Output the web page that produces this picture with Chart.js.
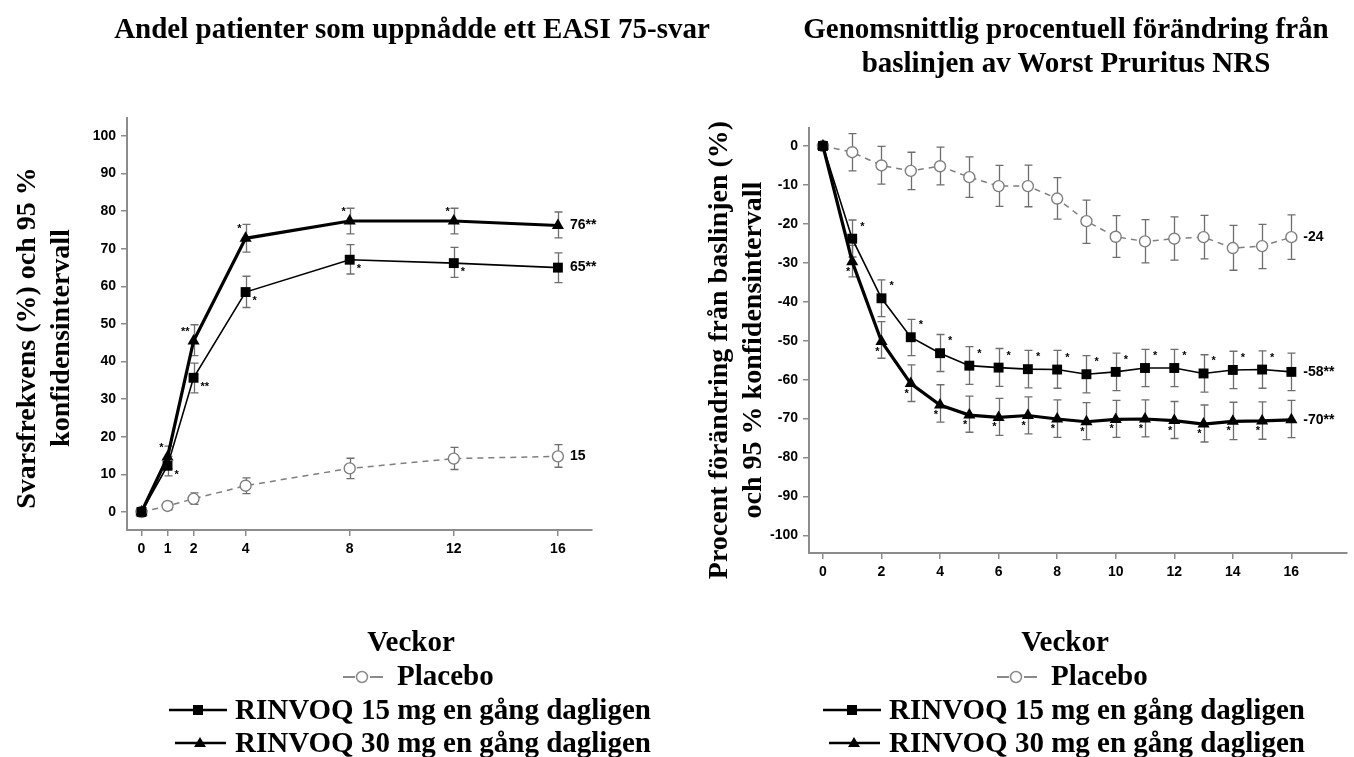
<!DOCTYPE html>
<html>
<head>
<meta charset="utf-8">
<script src="https://cdn.jsdelivr.net/npm/chart.js@4.4.0/dist/chart.umd.min.js"></script>
<style>
  html, body { margin: 0; padding: 0; background: #fff; width: 1354px; height: 757px; overflow: hidden; }
  #wrap { position: relative; width: 1354px; height: 757px; }
  .box { position: absolute; }
  #overlay { position: absolute; left: 0; top: 0; }
  .ser { font-family: 'Liberation Serif', 'Times New Roman', serif; font-weight: bold; font-size: 29px; fill: #000; }
  .ax { font-size: 28px; }
</style>
</head>
<body>
<div id="wrap">
  <div class="box" style="left:0;top:100px;width:610px;height:480px"><canvas id="chartA"></canvas></div>
  <div class="box" style="left:690px;top:100px;width:664px;height:500px"><canvas id="chartB"></canvas></div>

  <svg id="overlay" width="1354" height="757">
    <!-- titles -->
    <text class="ser" x="412" y="38" text-anchor="middle">Andel patienter som uppnådde ett EASI 75-svar</text>
    <text class="ser" x="1066" y="38" text-anchor="middle">Genomsnittlig procentuell förändring från</text>
    <text class="ser" x="1066" y="72" text-anchor="middle">baslinjen av Worst Pruritus NRS</text>

    <!-- y axis titles -->
    <text class="ser ax" transform="translate(35,338) rotate(-90)" text-anchor="middle">Svarsfrekvens (%) och 95 %</text>
    <text class="ser ax" transform="translate(69,338) rotate(-90)" text-anchor="middle">konfidensintervall</text>
    <text class="ser ax" transform="translate(727,350) rotate(-90)" text-anchor="middle">Procent förändring från baslinjen (%)</text>
    <text class="ser ax" transform="translate(761,350) rotate(-90)" text-anchor="middle">och 95 % konfidensintervall</text>

    <!-- x axis titles -->
    <text class="ser" x="411" y="651" text-anchor="middle">Veckor</text>
    <text class="ser" x="1065" y="651" text-anchor="middle">Veckor</text>

    <!-- legend left -->
    <g>
      <line x1="343" y1="677" x2="355" y2="677" stroke="#8a8a8a" stroke-width="2"/>
      <line x1="370" y1="677" x2="383" y2="677" stroke="#8a8a8a" stroke-width="2"/>
      <circle cx="362" cy="677" r="5.5" fill="#fff" stroke="#8a8a8a" stroke-width="1.5"/>
      <text class="ser" x="397" y="685">Placebo</text>
      <line x1="169" y1="710" x2="227" y2="710" stroke="#000" stroke-width="2.5"/>
      <rect x="193" y="705" width="10" height="10" fill="#000"/>
      <text class="ser" x="235" y="719">RINVOQ 15 mg en gång dagligen</text>
      <line x1="175" y1="743" x2="226" y2="743" stroke="#000" stroke-width="2.5"/>
      <polygon points="200,737 206,747 194,747" fill="#000"/>
      <text class="ser" x="235" y="752">RINVOQ 30 mg en gång dagligen</text>
    </g>
    <!-- legend right -->
    <g transform="translate(654,0)">
      <line x1="343" y1="677" x2="355" y2="677" stroke="#8a8a8a" stroke-width="2"/>
      <line x1="370" y1="677" x2="383" y2="677" stroke="#8a8a8a" stroke-width="2"/>
      <circle cx="362" cy="677" r="5.5" fill="#fff" stroke="#8a8a8a" stroke-width="1.5"/>
      <text class="ser" x="397" y="685">Placebo</text>
      <line x1="169" y1="710" x2="227" y2="710" stroke="#000" stroke-width="2.5"/>
      <rect x="193" y="705" width="10" height="10" fill="#000"/>
      <text class="ser" x="235" y="719">RINVOQ 15 mg en gång dagligen</text>
      <line x1="175" y1="743" x2="226" y2="743" stroke="#000" stroke-width="2.5"/>
      <polygon points="200,737 206,747 194,747" fill="#000"/>
      <text class="ser" x="235" y="752">RINVOQ 30 mg en gång dagligen</text>
    </g>
  </svg>
</div>

<script>
// ---- left panel: EASI 75 response (%) ----
const weeksA = [0, 1, 2, 4, 8, 12, 16];
const xTicksA = [0, 1, 2, 4, 8, 12, 16];
const yTicksA = [0, 10, 20, 30, 40, 50, 60, 70, 80, 90, 100];

const placeboA   = [0, 1.6, 3.5, 7.0, 11.6, 14.2, 14.8];
const placeboALo = [0, 0.6, 2.0, 4.9, 8.9, 11.3, 11.9];
const placeboAHi = [0, 2.7, 5.1, 9.1, 14.3, 17.2, 17.9];

const r15A   = [0, 12.3, 35.7, 58.5, 67.1, 66.2, 65.0];
const r15ALo = [0, 9.6, 31.7, 54.4, 63.3, 62.4, 61.0];
const r15AHi = [0, 14.8, 39.6, 62.7, 71.1, 70.4, 68.9];
const r15AStars = ['', '*', '**', '*', '*', '*', ''];

const r30A   = [0, 14.6, 45.5, 72.8, 77.4, 77.4, 76.2];
const r30ALo = [0, 11.5, 41.6, 69.1, 74.0, 74.0, 72.9];
const r30AHi = [0, 17.5, 49.8, 76.5, 80.8, 80.8, 79.8];
const r30AStars = ['', '*', '**', '*', '*', '*', ''];

// ---- right panel: Worst Pruritus NRS change (%) ----
const weeksB = [0, 1, 2, 3, 4, 5, 6, 7, 8, 9, 10, 11, 12, 13, 14, 15, 16];
const xTicksB = [0, 2, 4, 6, 8, 10, 12, 14, 16];
const yTicksB = [0, -10, -20, -30, -40, -50, -60, -70, -80, -90, -100];

const placeboB   = [0, -1.6, -5.0, -6.4, -5.2, -8.0, -10.3, -10.3, -13.5, -19.3, -23.3, -24.5, -23.8, -23.4, -26.2, -25.7, -23.4];
const placeboBLo = [0, -6.4, -9.8, -11.2, -10.0, -13.2, -15.5, -15.6, -18.8, -25.0, -28.6, -30.0, -29.3, -29.0, -31.9, -31.5, -29.1];
const placeboBHi = [0, 3.2, -0.1, -1.6, -0.3, -2.8, -5.0, -4.9, -8.1, -13.9, -17.9, -18.9, -18.2, -17.8, -20.4, -20.1, -17.7];

const r15B   = [0, -23.8, -39.1, -49.1, -53.2, -56.4, -56.9, -57.3, -57.4, -58.6, -58.0, -57.0, -57.0, -58.4, -57.5, -57.4, -58.0];
const r15BLo = [0, -28.5, -43.8, -53.8, -57.9, -61.2, -61.7, -62.1, -62.2, -63.4, -62.8, -61.8, -61.8, -63.2, -62.3, -62.2, -62.8];
const r15BHi = [0, -19.0, -34.4, -44.5, -48.4, -51.5, -52.0, -52.5, -52.5, -53.8, -53.2, -52.2, -52.2, -53.6, -52.7, -52.6, -53.2];
const r15BStars = ['', '*', '*', '*', '*', '*', '*', '*', '*', '*', '*', '*', '*', '*', '*', '*', ''];

const r30B   = [0, -29.7, -50.2, -61.0, -66.5, -69.1, -69.7, -69.2, -70.1, -70.8, -70.2, -70.1, -70.5, -71.4, -70.7, -70.6, -70.3];
const r30BLo = [0, -33.6, -54.5, -65.6, -70.9, -73.5, -74.3, -73.9, -74.8, -75.4, -74.8, -74.7, -75.1, -76.0, -75.4, -75.3, -74.9];
const r30BHi = [0, -25.5, -45.1, -56.2, -61.3, -64.2, -64.8, -64.4, -65.2, -65.9, -65.3, -65.2, -65.6, -66.5, -65.8, -65.7, -65.3];
const r30BStars = ['', '*', '*', '*', '*', '*', '*', '*', '*', '*', '*', '*', '*', '*', '*', '*', ''];

const AXIS_GREY = '#8c8c8c';
const ERR_GREY = '#6e6e6e';
const PLACEBO_GREY = '#7f7f7f';

const pts = (xs, ys) => xs.map((x, i) => ({ x: x, y: ys[i] }));

// error bars with caps, drawn under the lines
const errorBars = {
  id: 'errorBars',
  beforeDatasetsDraw(chart) {
    const { ctx, scales: { x, y } } = chart;
    ctx.save();
    ctx.lineWidth = 1.3;
    chart.data.datasets.forEach(ds => {
      ctx.strokeStyle = ERR_GREY;
      ds.data.forEach((p, i) => {
        const lo = ds.errLo[i], hi = ds.errHi[i];
        if (lo === hi) return;
        const px = Math.round(x.getPixelForValue(p.x)) + 0.5;
        const yTop = y.getPixelForValue(hi), yBot = y.getPixelForValue(lo);
        ctx.beginPath();
        ctx.moveTo(px, yTop); ctx.lineTo(px, yBot);
        ctx.moveTo(px - 4, yTop); ctx.lineTo(px + 4, yTop);
        ctx.moveTo(px - 4, yBot); ctx.lineTo(px + 4, yBot);
        ctx.stroke();
      });
    });
    ctx.restore();
  }
};

// significance stars and end-of-line values
const notes = {
  id: 'notes',
  afterDatasetsDraw(chart) {
    const { ctx, scales: { x, y } } = chart;
    ctx.save();
    ctx.fillStyle = '#000';
    ctx.textBaseline = 'middle';
    chart.data.datasets.forEach(ds => {
      if (ds.stars) {
        ctx.font = 'bold 11px "Liberation Sans", Arial, sans-serif';
        ds.data.forEach((p, i) => {
          const s = ds.stars[i];
          if (!s) return;
          const px = x.getPixelForValue(p.x), py = y.getPixelForValue(p.y);
          const o = ds.starOffset;
          ctx.textAlign = o[0] < 0 ? 'right' : 'left';
          ctx.fillText(s, px + o[0], py + o[1]);
        });
      }
      if (ds.endLabel) {
        const last = ds.data[ds.data.length - 1];
        ctx.font = 'bold 14px "Liberation Sans", Arial, sans-serif';
        ctx.textAlign = 'left';
        ctx.fillText(ds.endLabel, x.getPixelForValue(last.x) + 12, y.getPixelForValue(last.y));
      }
    });
    ctx.restore();
  }
};

function axisStyle(extra) {
  return Object.assign({
    type: 'linear',
    grid: { drawOnChartArea: false, drawTicks: true, tickLength: 6, color: AXIS_GREY, lineWidth: 1.5 },
    border: { display: true, color: AXIS_GREY, width: 2 },
    ticks: {
      color: '#000',
      font: { family: '"Liberation Sans", Arial, sans-serif', size: 14, weight: 'bold' },
      autoSkip: false, maxRotation: 0, padding: 5
    }
  }, extra);
}

function placeboSet(xs, ys, lo, hi, endLabel) {
  return {
    label: 'Placebo', data: pts(xs, ys), errLo: lo, errHi: hi, endLabel: endLabel,
    borderColor: PLACEBO_GREY, borderWidth: 1.5, borderDash: [6, 5],
    pointStyle: 'circle', pointRadius: 5.5, pointBackgroundColor: '#fff',
    pointBorderColor: PLACEBO_GREY, pointBorderWidth: 1.4, tension: 0, order: 3
  };
}
function r15Set(xs, ys, lo, hi, stars, off, endLabel) {
  return {
    label: 'RINVOQ 15 mg en gång dagligen', data: pts(xs, ys), errLo: lo, errHi: hi,
    stars: stars, starOffset: off, endLabel: endLabel,
    borderColor: '#000', borderWidth: 1.6,
    pointStyle: 'rect', pointRadius: 7, pointBackgroundColor: '#000', pointBorderColor: '#000',
    pointBorderWidth: 0, tension: 0, order: 2
  };
}
function r30Set(xs, ys, lo, hi, stars, off, endLabel) {
  return {
    label: 'RINVOQ 30 mg en gång dagligen', data: pts(xs, ys), errLo: lo, errHi: hi,
    stars: stars, starOffset: off, endLabel: endLabel,
    borderColor: '#000', borderWidth: 3.2,
    pointStyle: 'triangle', pointRadius: 7, pointBackgroundColor: '#000', pointBorderColor: '#000',
    pointBorderWidth: 0, tension: 0, order: 1
  };
}

const baseOptions = {
  responsive: true, maintainAspectRatio: false, animation: false,
  plugins: { legend: { display: false }, tooltip: { enabled: false } }
};

new Chart(document.getElementById('chartA'), {
  type: 'line',
  data: {
    datasets: [
      placeboSet(weeksA, placeboA, placeboALo, placeboAHi, '15'),
      r15Set(weeksA, r15A, r15ALo, r15AHi, r15AStars, [7, 9], '65**'),
      r30Set(weeksA, r30A, r30ALo, r30AHi, r30AStars, [-4, -9], '76**')
    ]
  },
  options: Object.assign({}, baseOptions, {
    layout: { padding: { top: 18, right: 18, left: 0, bottom: 0 } },
    scales: {
      x: axisStyle({
        min: -0.557, max: 17.31,
        afterBuildTicks: s => { s.ticks = xTicksA.map(v => ({ value: v })); },
        afterFit: s => { s.height = 50; }
      }),
      y: axisStyle({
        min: -4.79, max: 104.8,
        afterBuildTicks: s => { s.ticks = yTicksA.map(v => ({ value: v })); },
        afterFit: s => { s.width = 127; }
      })
    }
  }),
  plugins: [errorBars, notes]
});

new Chart(document.getElementById('chartB'), {
  type: 'line',
  data: {
    datasets: [
      placeboSet(weeksB, placeboB, placeboBLo, placeboBHi, '-24'),
      r15Set(weeksB, r15B, r15BLo, r15BHi, r15BStars, [8, -12], '-58**'),
      r30Set(weeksB, r30B, r30BLo, r30BHi, r30BStars, [-2, 10], '-70**')
    ]
  },
  options: Object.assign({}, baseOptions, {
    layout: { padding: { top: 28, right: 4, left: 0, bottom: 0 } },
    scales: {
      x: axisStyle({
        min: -0.476, max: 17.9,
        afterBuildTicks: s => { s.ticks = xTicksB.map(v => ({ value: v })); },
        afterFit: s => { s.height = 47; }
      }),
      y: axisStyle({
        min: -104.5, max: 4.62,
        afterBuildTicks: s => { s.ticks = yTicksB.map(v => ({ value: v })); },
        afterFit: s => { s.width = 119; }
      })
    }
  }),
  plugins: [errorBars, notes]
});
</script>
</body>
</html>
